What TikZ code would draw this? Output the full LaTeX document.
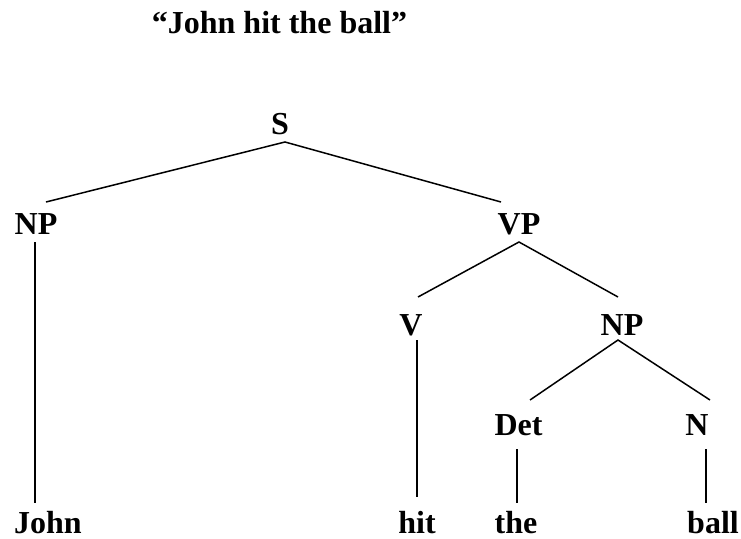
\documentclass[tikz,border=0pt]{standalone}
\usepackage{fontspec}
\setmainfont{Liberation Serif}
\begin{document}
\begin{tikzpicture}[x=1pt,y=-1pt,
  lbl/.style={anchor=base,inner sep=0pt,font=\fontsize{32}{38}\selectfont\bfseries},
  edge/.style={line width=1.5pt}]
\useasboundingbox[fill=white] (0,0) rectangle (741,538);
% title
\node[lbl] (title) at (279.5,33) {“John hit the ball”};
% labels
\node[lbl] (S)   at (280,134) {S};
\node[lbl] (NP)  at (36,234) {NP};
\node[lbl] (VP)  at (519,234) {VP};
\node[lbl] (V)   at (411,335) {V};
\node[lbl] (NP2) at (622,335) {NP};
\node[lbl] (Det) at (518.5,435) {Det};
\node[lbl] (N)   at (697,435) {N};
\node[lbl] (John) at (48,533) {John};
\node[lbl] (hit)  at (417,533) {hit};
\node[lbl] (the)  at (516,533) {the};
\node[lbl] (ball) at (713,533) {ball};
% connector end points
\coordinate (Sb) at (285,142);
\coordinate (NPt) at (46,202);
\coordinate (VPt) at (501,202);
\coordinate (NPb) at (35,242);
\coordinate (Johnt) at (35,503);
\coordinate (VPb) at (519,242);
\coordinate (Vt) at (418,297);
\coordinate (NPtwot) at (618,297);
\coordinate (Vb) at (417,340);
\coordinate (hitt) at (417,497);
\coordinate (NPtwob) at (618,340);
\coordinate (Dett) at (530,400);
\coordinate (Nt) at (710,400);
\coordinate (Detb) at (517,449);
\coordinate (thet) at (517,503);
\coordinate (Nb) at (706,449);
\coordinate (ballt) at (706,503);
% connectors
\draw[edge] (NPt) -- (Sb) -- (VPt);
\draw[edge] (NPb) -- (Johnt);
\draw[edge] (Vt) -- (VPb) -- (NPtwot);
\draw[edge] (Vb) -- (hitt);
\draw[edge] (Dett) -- (NPtwob) -- (Nt);
\draw[edge] (Detb) -- (thet);
\draw[edge] (Nb) -- (ballt);
\end{tikzpicture}
\end{document}
